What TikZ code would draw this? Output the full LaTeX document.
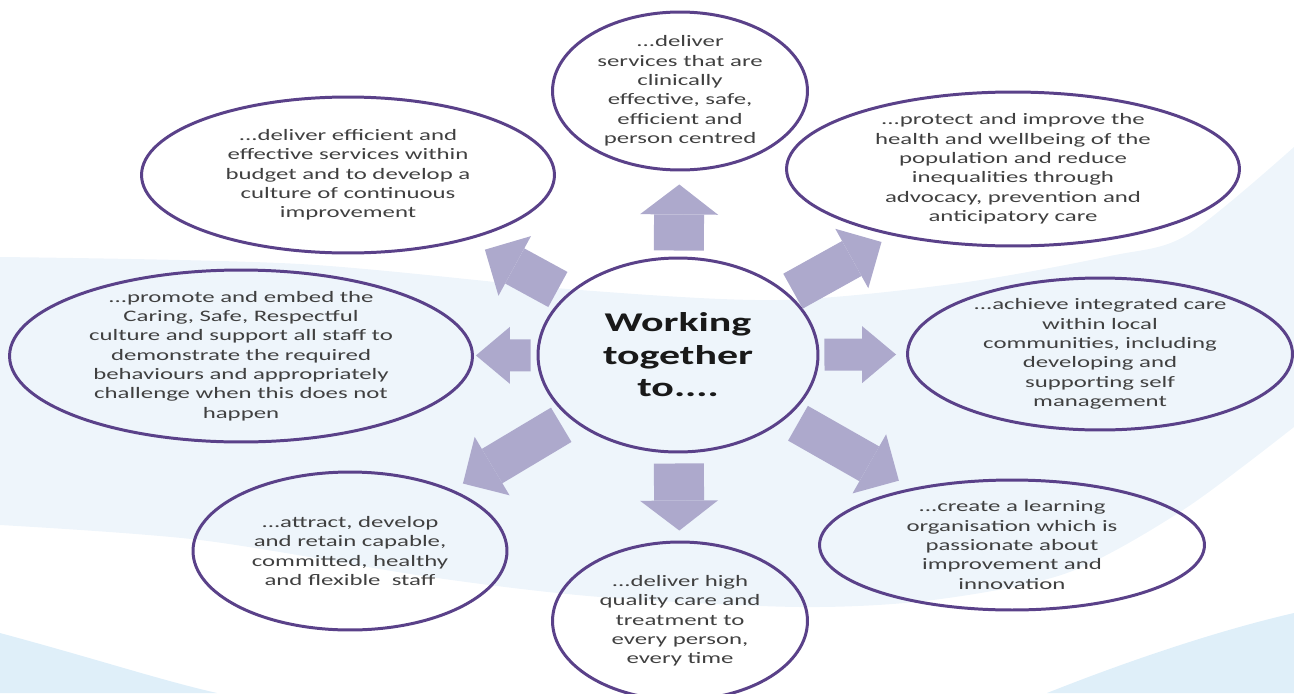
\documentclass[tikz,border=0pt]{standalone}
\usepackage{fontspec}
\newfontfamily\bodyfont[FakeStretch=1.55]{Carlito}
\usetikzlibrary{shapes.geometric,arrows.meta}

\definecolor{ringline}{HTML}{5A4189}
\definecolor{flowfill}{HTML}{ADA9CC}
\definecolor{bodygrey}{HTML}{404040}
\definecolor{bandblue}{HTML}{EEF5FB}
\definecolor{waveblue}{HTML}{DFEFF9}

\tikzset{
  ring/.style={ellipse, draw=ringline, line width=1.7pt, inner sep=0pt},
  ringtext/.style={align=center, text=bodygrey, inner sep=0pt,
    font=\bodyfont\fontsize{9.1}{11}\selectfont},
  flow/.style={draw=flowfill, line width=0.8cm,
    -{Triangle[length=0.68cm, width=1.36cm, line width=0pt]}},
  flowv/.style={flow, line width=1cm,
    -{Triangle[length=0.6cm, width=1.56cm, line width=0pt]}},
  flowh/.style={flow, line width=0.64cm,
    -{Triangle[length=0.68cm, width=1.14cm, line width=0pt]}},
}

\begin{document}
\begin{tikzpicture}[x=0.02cm, y=-0.02cm]
\useasboundingbox (0,0) rectangle (1294,693);

% background waves
\fill[bandblue] plot[smooth] coordinates {(0,257) (300,264) (580,290) (780,300) (960,283) (1110,256) (1187,235) (1294,147)}
  -- plot[smooth] coordinates {(1294,427) (1183,510) (1067,573) (933,600) (800,607) (600,597) (430,577) (200,540) (0,525)} -- cycle;
\fill[waveblue] (0,633) .. controls (100,660) and (160,680) .. (217,693) -- (0,693) -- cycle;
\fill[waveblue] (1047,693) .. controls (1130,660) and (1220,630) .. (1294,613) -- (1294,693) -- cycle;

% hub
\node[ring, minimum width=5.6cm, minimum height=3.88cm, align=center, text=black!90,
  font=\bodyfont\bfseries\fontsize{15.4}{18.5}\selectfont] (hub) at (678,355) {Working\\together\\to....};

% goals
\node[ring, minimum width=5.1cm, minimum height=3.16cm] (services) at (680,91) {};
\node[ringtext] (services text) at (services) {...deliver\\services that are\\clinically\\effective, safe,\\efficient and\\person centred};

\node[ring, minimum width=8.26cm, minimum height=3.12cm] (budget) at (348,175) {};
\node[ringtext] (budget text) at (budget) {...deliver efficient and\\effective services within\\budget and to develop a\\culture of continuous\\improvement};

\node[ring, minimum width=9.06cm, minimum height=3.08cm] (protect) at (1013,169) {};
\node[ringtext] (protect text) at (protect) {...protect and improve the\\health and wellbeing of the\\population and reduce\\inequalities through\\advocacy, prevention and\\anticipatory care};

\node[ring, minimum width=9.26cm, minimum height=3.44cm] (promote) at (241,356) {};
\node[ringtext] (promote text) at (promote) {...promote and embed the\\Caring, Safe, Respectful\\culture and support all staff to\\demonstrate the required\\behaviours and appropriately\\challenge when this does not\\happen};

\node[ring, minimum width=7.7cm, minimum height=3.04cm] (achieve) at (1100,354) {};
\node[ringtext] (achieve text) at (achieve) {...achieve integrated care\\within local\\communities, including\\developing and\\supporting self\\management};

\node[ring, minimum width=6.28cm, minimum height=3.16cm] (attract) at (350,551) {};
\node[ringtext] (attract text) at (attract) {...attract, develop\\and retain capable,\\committed, healthy\\and flexible\ \ staff};

\node[ring, minimum width=5.1cm, minimum height=3.16cm] (quality) at (680,621) {};
\node[ringtext] (quality text) at (quality) {...deliver high\\quality care and\\treatment to\\every person,\\every time};

\node[ring, minimum width=7.7cm, minimum height=2.6cm] (create) at (1012,545) {};
\node[ringtext] (create text) at (create) {...create a learning\\organisation which is\\passionate about\\improvement and\\innovation};

% arrows out of the hub
\draw[flowv, shorten <=0.12cm, shorten >=0.26cm] (hub) -- (services);
\draw[flowv, shorten <=0.2cm, shorten >=0.2cm] (hub) -- (quality);
\draw[flowh, shorten <=0.1cm, shorten >=0.2cm] (hub) -- (achieve);
\draw[flowh, shorten <=0.12cm, shorten >=0.04cm] (hub) -- (promote);
\draw[flow, shorten <=0.2cm, shorten >=0.4cm] (hub) -- (budget);
\draw[flow, shorten <=0.1cm, shorten >=0.26cm] (hub) -- (protect);
\draw[flow, shorten <=0.22cm, shorten >=0.24cm] (hub) -- (attract);
\draw[flow, shorten <=0.24cm, shorten >=0.3cm] (hub) -- (create);

\end{tikzpicture}
\end{document}
